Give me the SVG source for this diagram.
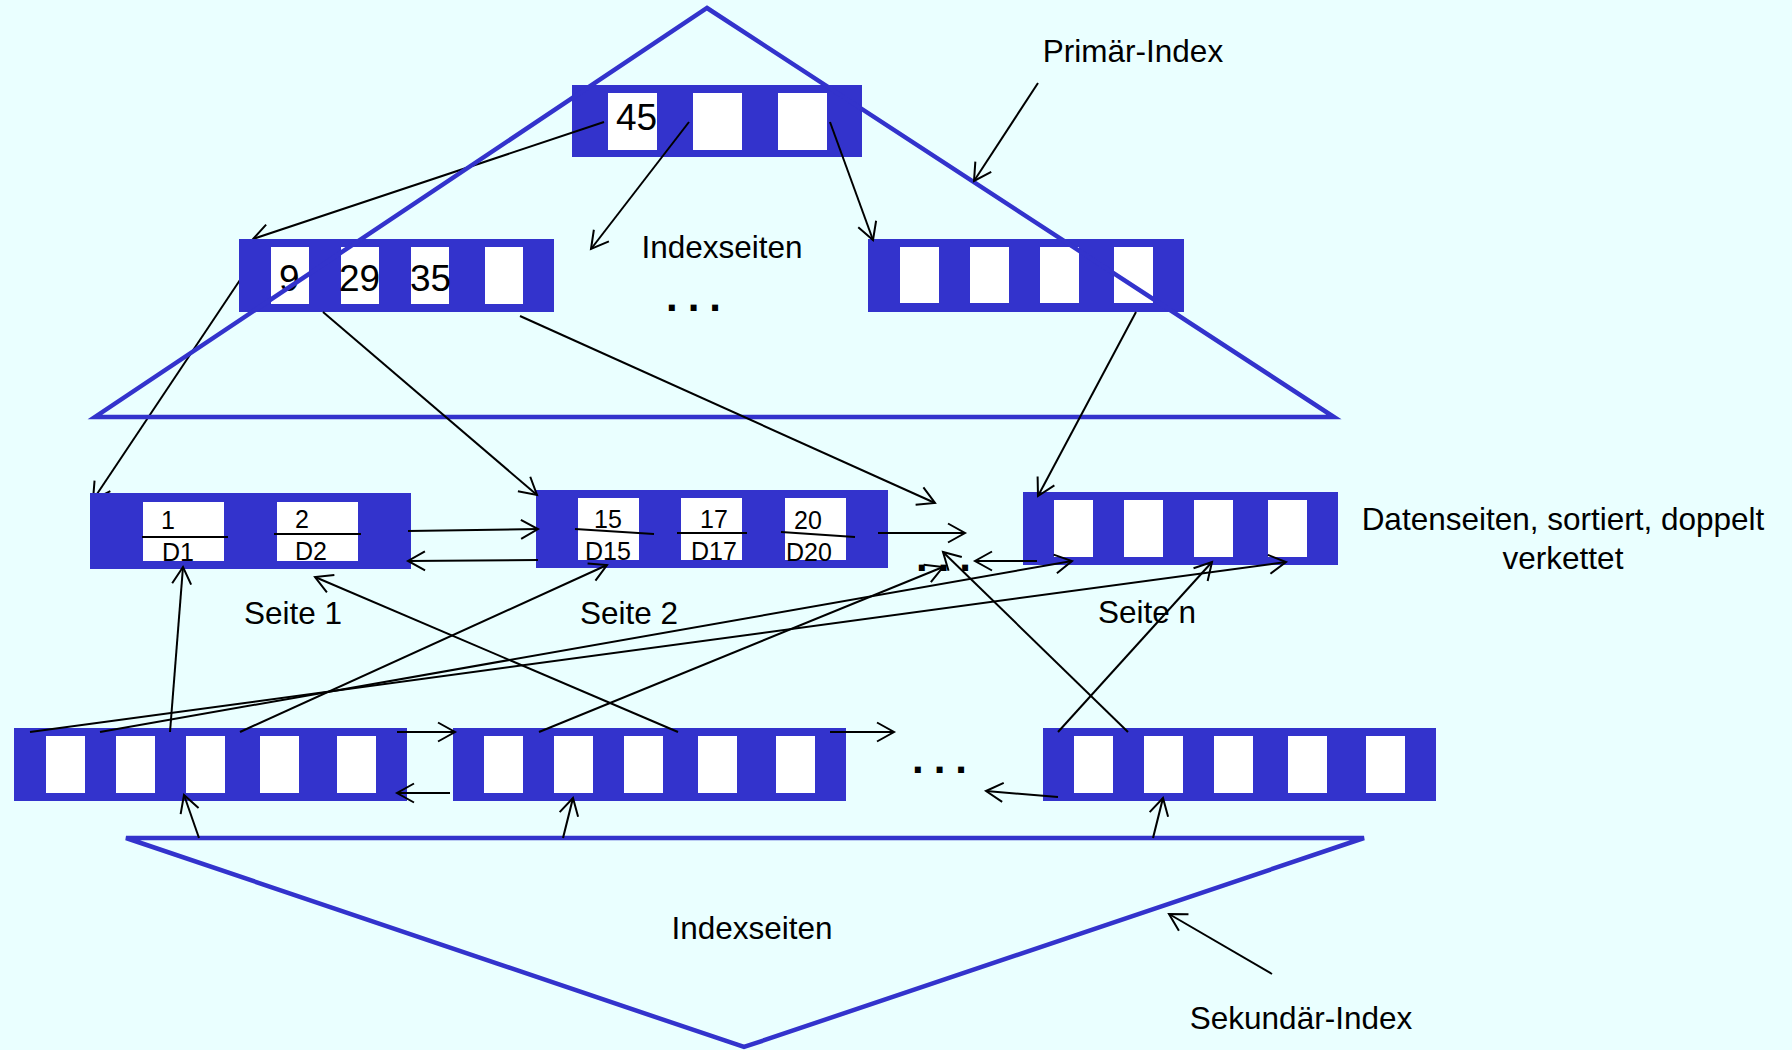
<svg xmlns="http://www.w3.org/2000/svg" width="1792" height="1050" viewBox="0 0 1792 1050">
<defs>
<style>
.bg{fill:#eaffff}
.node{fill:#3333cc}
.cell{fill:#ffffff}
.tri{fill:none;stroke:#3333cc;stroke-width:4.5;stroke-linejoin:miter}
.con{fill:none;stroke:#000;stroke-width:2}
.arr{marker-end:url(#ah)}
.sep{stroke:#000;stroke-width:2}
.lbl{font-family:"Liberation Sans",Arial,sans-serif;font-size:31.5px;fill:#000}
.key{font-family:"Liberation Sans",Arial,sans-serif;font-size:37px;fill:#000}
.dat{font-family:"Liberation Sans",Arial,sans-serif;font-size:25px;fill:#000;text-anchor:middle}
.dots{font-family:"Liberation Sans",Arial,sans-serif;font-size:42px;font-weight:bold;fill:#000;letter-spacing:10px}
</style>
<marker id="ah" markerUnits="userSpaceOnUse" markerWidth="20" markerHeight="22" refX="17" refY="9.5" orient="auto" overflow="visible">
<path d="M0,0 L17,9.5 L0,19" fill="none" stroke="#000" stroke-width="2"/>
</marker>
</defs>
<rect class="bg" x="0" y="0" width="1792" height="1050"/>

<g id="root">
<rect class="node" x="572" y="85" width="290" height="72"/>
<rect class="cell" x="608" y="93" width="49" height="57"/>
<rect class="cell" x="693" y="93" width="49" height="57"/>
<rect class="cell" x="778" y="93" width="49" height="57"/>
<text class="key" x="616" y="130">45</text>
</g>

<g id="connectors-behind">
<line class="con arr" x1="604" y1="122" x2="253" y2="239"/>
<line class="con arr" x1="248" y1="268" x2="93" y2="500"/>
</g>

<g id="index-left">
<rect class="node" x="239" y="239" width="315" height="73"/>
<rect class="cell" x="271" y="247" width="38" height="57"/>
<rect class="cell" x="341" y="247" width="38" height="57"/>
<rect class="cell" x="411" y="247" width="38" height="57"/>
<rect class="cell" x="485" y="247" width="38" height="57"/>
<text class="key" x="279" y="291">9</text>
<text class="key" x="339" y="291">29</text>
<text class="key" x="410" y="291">35</text>
</g>

<g id="index-right">
<rect class="node" x="868" y="239" width="316" height="73"/>
<rect class="cell" x="900" y="247" width="39" height="56"/>
<rect class="cell" x="970" y="247" width="39" height="56"/>
<rect class="cell" x="1040" y="247" width="39" height="56"/>
<rect class="cell" x="1114" y="247" width="39" height="56"/>
</g>

<g id="page1">
<rect class="node" x="90" y="493" width="321" height="76"/>
<rect class="cell" x="143" y="502" width="81" height="59"/>
<rect class="cell" x="277" y="502" width="81" height="59"/>
<line class="sep" x1="142" y1="537" x2="228" y2="537"/>
<line class="sep" x1="274" y1="534" x2="361" y2="534"/>
<text class="dat" x="168" y="529">1</text>
<text class="dat" x="178" y="561">D1</text>
<text class="dat" x="302" y="528">2</text>
<text class="dat" x="311" y="560">D2</text>
</g>

<g id="page2">
<rect class="node" x="536" y="490" width="352" height="78"/>
<rect class="cell" x="578" y="498" width="61" height="62"/>
<rect class="cell" x="681" y="498" width="61" height="62"/>
<rect class="cell" x="785" y="498" width="61" height="62"/>
<line class="sep" x1="575" y1="529" x2="654" y2="534"/>
<line class="sep" x1="677" y1="533" x2="747" y2="533"/>
<line class="sep" x1="781" y1="532" x2="855" y2="537"/>
<text class="dat" x="608" y="528">15</text>
<text class="dat" x="608" y="560">D15</text>
<text class="dat" x="714" y="528">17</text>
<text class="dat" x="714" y="560">D17</text>
<text class="dat" x="808" y="529">20</text>
<text class="dat" x="809" y="561">D20</text>
</g>

<g id="pagen">
<rect class="node" x="1023" y="492" width="315" height="73"/>
<rect class="cell" x="1054" y="500" width="39" height="57"/>
<rect class="cell" x="1124" y="500" width="39" height="57"/>
<rect class="cell" x="1194" y="500" width="39" height="57"/>
<rect class="cell" x="1268" y="500" width="39" height="57"/>
</g>

<g id="sec1">
<rect class="node" x="14" y="728" width="393" height="73"/>
<rect class="cell" x="46" y="736" width="39" height="57"/>
<rect class="cell" x="116" y="736" width="39" height="57"/>
<rect class="cell" x="186" y="736" width="39" height="57"/>
<rect class="cell" x="260" y="736" width="39" height="57"/>
<rect class="cell" x="337" y="736" width="39" height="57"/>
</g>

<g id="sec2">
<rect class="node" x="453" y="728" width="393" height="73"/>
<rect class="cell" x="484" y="736" width="39" height="57"/>
<rect class="cell" x="554" y="736" width="39" height="57"/>
<rect class="cell" x="624" y="736" width="39" height="57"/>
<rect class="cell" x="698" y="736" width="39" height="57"/>
<rect class="cell" x="776" y="736" width="39" height="57"/>
</g>

<g id="sec3">
<rect class="node" x="1043" y="728" width="393" height="73"/>
<rect class="cell" x="1074" y="736" width="39" height="57"/>
<rect class="cell" x="1144" y="736" width="39" height="57"/>
<rect class="cell" x="1214" y="736" width="39" height="57"/>
<rect class="cell" x="1288" y="736" width="39" height="57"/>
<rect class="cell" x="1366" y="736" width="39" height="57"/>
</g>

<g id="primary-index-triangle">
<polygon class="tri" points="707,8 1334,417 95,417"/>
</g>
<g id="secondary-index-triangle">
<polygon class="tri" points="126,838 1364,838 744,1047"/>
</g>

<g id="labels">
<text class="lbl" x="1133" y="62" text-anchor="middle">Primär-Index</text>
<text class="lbl" x="722" y="258" text-anchor="middle">Indexseiten</text>
<text class="dots" x="666" y="311">...</text>
<text class="lbl" x="293" y="624" text-anchor="middle">Seite 1</text>
<text class="lbl" x="629" y="624" text-anchor="middle">Seite 2</text>
<text class="lbl" x="1147" y="623" text-anchor="middle">Seite n</text>
<text class="dots" x="916" y="571">...</text>
<text class="lbl" x="1563" y="530" text-anchor="middle">Datenseiten, sortiert, doppelt</text>
<text class="lbl" x="1563" y="569" text-anchor="middle">verkettet</text>
<text class="dots" x="912" y="773">...</text>
<text class="lbl" x="752" y="939" text-anchor="middle">Indexseiten</text>
<text class="lbl" x="1301" y="1029" text-anchor="middle">Sekundär-Index</text>
</g>

<g id="connectors">
<line class="con arr" x1="689" y1="122" x2="591" y2="249"/>
<line class="con arr" x1="830" y1="122" x2="873" y2="240"/>
<line class="con arr" x1="323" y1="312" x2="537" y2="495"/>
<line class="con arr" x1="520" y1="316" x2="935" y2="503"/>
<line class="con arr" x1="1136" y1="312" x2="1038" y2="496"/>
<line class="con arr" x1="408" y1="531" x2="538" y2="529"/>
<line class="con arr" x1="538" y1="560" x2="408" y2="561"/>
<line class="con arr" x1="878" y1="533" x2="965" y2="533"/>
<line class="con arr" x1="1037" y1="561" x2="975" y2="561"/>
<line class="con arr" x1="30" y1="732" x2="1286" y2="562"/>
<line class="con arr" x1="100" y1="732" x2="1072" y2="561"/>
<line class="con arr" x1="170" y1="732" x2="183" y2="567"/>
<line class="con arr" x1="240" y1="732" x2="607" y2="565"/>
<line class="con arr" x1="397" y1="732" x2="455" y2="732"/>
<line class="con arr" x1="450" y1="793" x2="397" y2="793"/>
<line class="con arr" x1="539" y1="732" x2="943" y2="567"/>
<line class="con arr" x1="678" y1="732" x2="315" y2="577"/>
<line class="con arr" x1="830" y1="732" x2="894" y2="732"/>
<line class="con arr" x1="1058" y1="732" x2="1212" y2="562"/>
<line class="con arr" x1="1128" y1="732" x2="943" y2="552"/>
<line class="con arr" x1="1058" y1="797" x2="986" y2="791"/>
<line class="con arr" x1="199" y1="838" x2="184" y2="795"/>
<line class="con arr" x1="563" y1="838" x2="573" y2="798"/>
<line class="con arr" x1="1153" y1="838" x2="1163" y2="798"/>
<line class="con arr" x1="1038" y1="83" x2="974" y2="181"/>
<line class="con arr" x1="1272" y1="974" x2="1169" y2="914"/>
</g>
</svg>
